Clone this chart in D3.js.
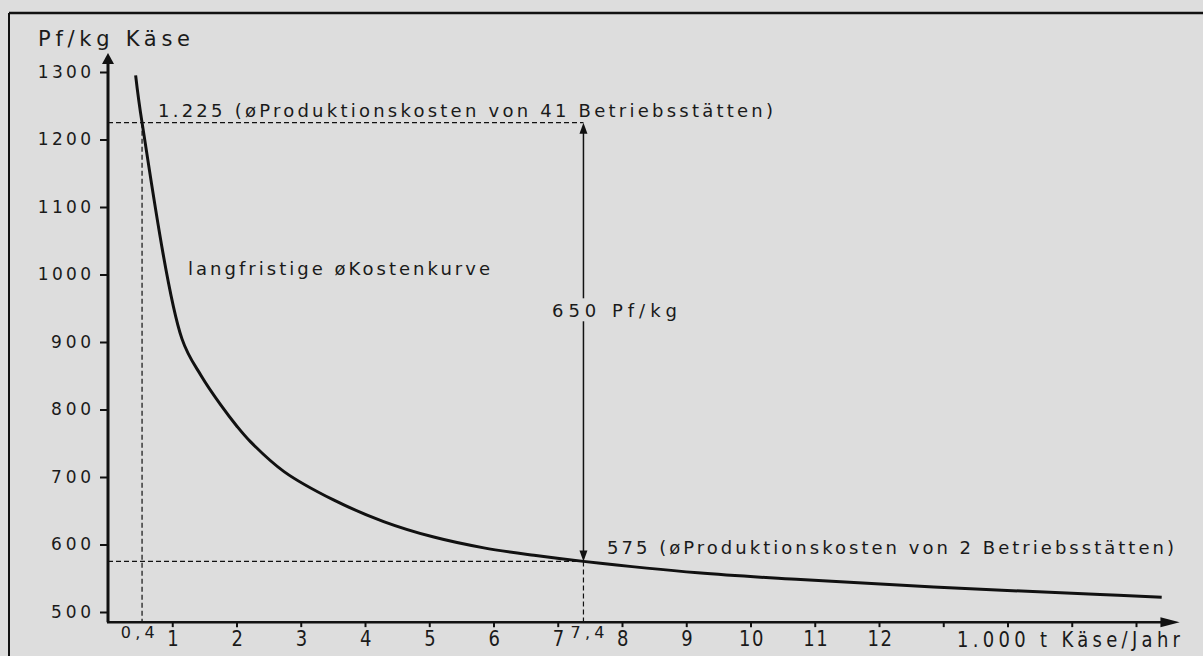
<!DOCTYPE html>
<html>
<head>
<meta charset="utf-8">
<script src="https://cdn.jsdelivr.net/npm/d3@7"></script>
<style>
  body { margin: 0; background: #dddddd; }
  svg { display: block; font-family: "DejaVu Sans", sans-serif; }
  text { fill: #1a1a1a; }
</style>
</head>
<body>
<svg id="chart" width="1203" height="656"></svg>
<script>
// langfristige Durchschnittskostenkurve (1.000 t Käse/Jahr -> Pf/kg)
const menge = [0.43, 0.53, 1.15, 1.45, 1.76, 2.0, 2.22, 2.74, 3.51, 4.29, 5.07, 5.85, 6.63, 7.4, 9.18, 10.78, 12.85, 15.44, 16.4];
const kosten = [1295, 1225, 905, 850, 806, 776, 752, 708, 666, 634, 611, 595, 584, 575, 558, 548, 537, 526, 522];

const yTicks = [500, 600, 700, 800, 900, 1000, 1100, 1200, 1300];
const xTicks = [1, 2, 3, 4, 5, 6, 7, 8, 9, 10, 11, 12, 13, 14, 15, 16];
const xTickLabels = ['1', '2', '3', '4', '5', '6', '7', '8', '9', '10', '11', '12', '', '', '', ''];

// Vergleichspunkte: 41 Betriebsstätten vs. 2 Betriebsstätten
const markMenge = [0.53, 7.4];
const markKosten = [1225, 575];
const markLabels = ['0,4', '7,4'];

const svg = d3.select('#chart');
const x = d3.scaleLinear().domain([0, 16]).range([108, 1136]);
const y = d3.scaleLinear().domain([500, 1300]).range([612, 72]);
const yBase = y(485);
const FONT = '"DejaVu Sans", sans-serif';

// frame of the scanned page
svg.append('line').attr('x1', 9).attr('x2', 1203).attr('y1', 13).attr('y2', 13)
  .attr('stroke', '#111').attr('stroke-width', 2.5);
svg.append('line').attr('x1', 9).attr('x2', 9).attr('y1', 13).attr('y2', 656)
  .attr('stroke', '#111').attr('stroke-width', 2);

const label = (str, px, py, size, len, anchor = 'start', sy = 1) => {
  const t = svg.append('text')
    .attr('transform', `translate(${px},${py}) scale(1,${sy})`)
    .attr('font-size', size)
    .attr('text-anchor', anchor)
    .text(str);
  if (len) t.attr('textLength', len).attr('lengthAdjust', 'spacing');
  return t;
};

// dashed guide lines
const dash = (x1, y1, x2, y2) => svg.append('line')
  .attr('x1', x1).attr('y1', y1).attr('x2', x2).attr('y2', y2)
  .attr('stroke', '#111').attr('stroke-width', 1.2).attr('stroke-dasharray', '5,3');
dash(x(0), y(markKosten[0]), x(markMenge[1]), y(markKosten[0]));
dash(x(0), y(markKosten[1]), x(markMenge[1]), y(markKosten[1]));
dash(x(markMenge[0]), y(markKosten[0]), x(markMenge[0]), yBase);
dash(x(markMenge[1]), y(markKosten[1]), x(markMenge[1]), yBase);

// y axis
const yAxis = svg.append('g')
  .attr('transform', `translate(${x(0)},0)`)
  .call(d3.axisLeft(y).tickValues(yTicks).tickSize(8).tickPadding(9).tickFormat(d => String(d)));
yAxis.select('.domain').remove();
yAxis.selectAll('line').attr('stroke', '#111').attr('stroke-width', 2);
yAxis.selectAll('text')
  .attr('font-family', FONT)
  .attr('font-size', 17)
  .attr('fill', '#1a1a1a')
  .attr('textLength', d => String(d).length * 13.3)
  .attr('lengthAdjust', 'spacing');

svg.append('line').attr('x1', x(0)).attr('x2', x(0)).attr('y1', yBase).attr('y2', y(1318))
  .attr('stroke', '#111').attr('stroke-width', 3);
svg.append('path')
  .attr('d', `M${x(0)},${y(1328)} L${x(0) - 6},${y(1312)} L${x(0) + 6},${y(1312)} Z`)
  .attr('fill', '#111');

// x axis
const xAxis = svg.append('g')
  .attr('transform', `translate(0,${yBase})`)
  .call(d3.axisBottom(x).tickValues(xTicks).tickSize(5).tickFormat((d, i) => xTickLabels[i]));
xAxis.select('.domain').remove();
xAxis.selectAll('line').attr('stroke', '#111').attr('stroke-width', 2);
xAxis.selectAll('text')
  .attr('font-family', FONT)
  .attr('font-size', 18)
  .attr('fill', '#1a1a1a')
  .attr('letter-spacing', 1.5)
  .attr('y', 0).attr('dy', 0)
  .attr('transform', 'translate(1,24) scale(1,1.2)');

svg.append('line').attr('x1', x(0) - 1).attr('x2', x(16.4)).attr('y1', yBase).attr('y2', yBase)
  .attr('stroke', '#111').attr('stroke-width', 2.5);
svg.append('path')
  .attr('d', `M${x(16.68)},${yBase} L${x(16.38)},${yBase - 5} L${x(16.38)},${yBase + 5} Z`)
  .attr('fill', '#111');

markLabels.forEach((s, i) => {
  label(s, x([0.4, 7.4][i]) + 4, yBase + 16, 16, 34, 'middle');
});

// cost curve
const line = d3.line().x(d => x(d[0])).y(d => y(d[1])).curve(d3.curveCatmullRom.alpha(0.5));
svg.append('path')
  .attr('d', line(menge.map((m, i) => [m, kosten[i]])))
  .attr('fill', 'none').attr('stroke', '#111').attr('stroke-width', 3)
  .attr('stroke-linejoin', 'round');

// double arrow: Kostendifferenz 650 Pf/kg
const ax = x(markMenge[1]);
const yTop = y(markKosten[0]);
const yBot = y(markKosten[1]);
const yMid = y(markKosten[0] - 0.43 * (markKosten[0] - markKosten[1]));
svg.append('line').attr('x1', ax).attr('x2', ax).attr('y1', yTop + 8).attr('y2', yMid - 13)
  .attr('stroke', '#111').attr('stroke-width', 1.5);
svg.append('line').attr('x1', ax).attr('x2', ax).attr('y1', yMid + 10).attr('y2', yBot - 8)
  .attr('stroke', '#111').attr('stroke-width', 1.5);
svg.append('path').attr('d', `M${ax},${yTop} L${ax - 4},${yTop + 11} L${ax + 4},${yTop + 11} Z`).attr('fill', '#111');
svg.append('path').attr('d', `M${ax},${yBot} L${ax - 4},${yBot - 11} L${ax + 4},${yBot - 11} Z`).attr('fill', '#111');

// annotations
label('Pf/kg Käse', 38, 46, 21, 152);
label('1.225 (øProduktionskosten von 41 Betriebsstätten)', 158, 117, 18, 615);
label('langfristige øKostenkurve', 188, 275, 18, 302);
label('650 Pf/kg', 552, yMid + 6, 18, 125);
label('575 (øProduktionskosten von 2 Betriebsstätten)', 607, 554, 18, 567);
label('1.000 t Käse/Jahr', 957, 647, 18, 223, 'start', 1.15);
</script>
</body>
</html>
